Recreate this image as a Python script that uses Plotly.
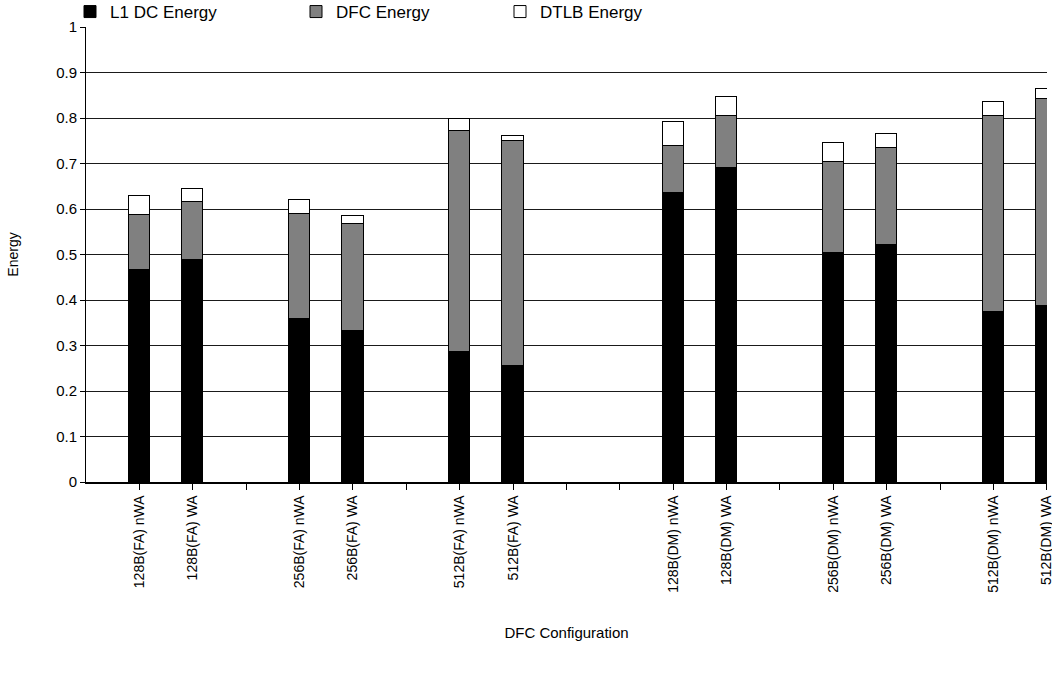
import plotly.graph_objects as go

categories = ["128B(FA) nWA", "128B(FA) WA", "", "256B(FA) nWA", "256B(FA) WA", "",
              "512B(FA) nWA", "512B(FA) WA", "", "", "128B(DM) nWA", "128B(DM) WA", "",
              "256B(DM) nWA", "256B(DM) WA", "", "512B(DM) nWA", "512B(DM) WA"]
l1_dc = [0.467, 0.489, None, 0.358, 0.331, None, 0.285, 0.255, None, None,
         0.636, 0.691, None, 0.503, 0.521, None, 0.374, 0.387]
dfc = [0.120, 0.126, None, 0.230, 0.237, None, 0.487, 0.495, None, None,
       0.103, 0.113, None, 0.200, 0.214, None, 0.430, 0.455]
dtlb = [0.041, 0.028, None, 0.031, 0.017, None, 0.026, 0.011, None, None,
        0.053, 0.042, None, 0.043, 0.029, None, 0.031, 0.021]
y_ticks = [0, 0.1, 0.2, 0.3, 0.4, 0.5, 0.6, 0.7, 0.8, 0.9, 1]
y_tick_text = ["0", "0.1", "0.2", "0.3", "0.4", "0.5", "0.6", "0.7", "0.8", "0.9", "1"]

xpos = list(range(len(categories)))
FONT = "Liberation Sans, Arial, sans-serif"

fig = go.Figure()
series = [("L1 DC Energy", l1_dc, "#000000", "legend"),
          ("DFC Energy", dfc, "#808080", "legend2"),
          ("DTLB Energy", dtlb, "#ffffff", "legend3")]
for name, vals, col, lg in series:
    fig.add_trace(go.Bar(
        x=xpos, y=vals, name=name, width=0.4,
        marker=dict(color=col, line=dict(color="#000000", width=1)),
        cliponaxis=False, legend=lg, hoverinfo="skip"))

W, H = 1052, 680
L, R, T, B = 86, 5, 27, 198
pw = W - L - R
ph = H - T - B

def px_x(p):
    return (p - L) / pw

def px_y(p):
    return (H - B - p) / ph

leg_common = dict(orientation="h", xanchor="left", yanchor="middle",
                  font=dict(family=FONT, size=17, color="#000"),
                  bgcolor="rgba(0,0,0,0)", borderwidth=0, itemwidth=30,
                  tracegroupgap=0, itemclick=False, itemdoubleclick=False)

fig.update_layout(
    width=W, height=H,
    margin=dict(l=L, r=R, t=T, b=B, autoexpand=False),
    plot_bgcolor="#ffffff", paper_bgcolor="#ffffff",
    barmode="stack", bargap=0,
    font=dict(family=FONT, size=14, color="#000"),
    showlegend=True,
    legend=dict(x=px_x(70), y=px_y(12), **leg_common),
    legend2=dict(x=px_x(296), y=px_y(12), **leg_common),
    legend3=dict(x=px_x(500), y=px_y(12), **leg_common),
    xaxis=dict(
        range=[-1, len(categories) - 1 + 0.002],
        tickmode="array", tickvals=xpos, ticktext=categories,
        tickangle=-90, ticks="outside", ticklen=6, tickcolor="#000", tickwidth=1,
        ticklabeloverflow="allow",
        showline=True, linecolor="#000", linewidth=1.5,
        showgrid=False, zeroline=False,
        tickfont=dict(family=FONT, size=14, color="#000"),
        title=dict(text="DFC Configuration", standoff=36,
                   font=dict(family=FONT, size=15, color="#000")),
    ),
    yaxis=dict(
        range=[0, 1],
        tickmode="array", tickvals=y_ticks, ticktext=y_tick_text,
        ticks="outside", ticklen=5, tickcolor="#000", tickwidth=1,
        showline=True, linecolor="#000", linewidth=1,
        showgrid=True, gridcolor="#1a1a1a", gridwidth=1,
        zeroline=False,
        tickfont=dict(family=FONT, size=15, color="#000"),
        title=dict(text="Energy", standoff=34,
                   font=dict(family=FONT, size=14, color="#000")),
    ),
)

fig.write_html("out.html", config={"displayModeBar": False},
               post_script="document.body.style.margin='0';")
